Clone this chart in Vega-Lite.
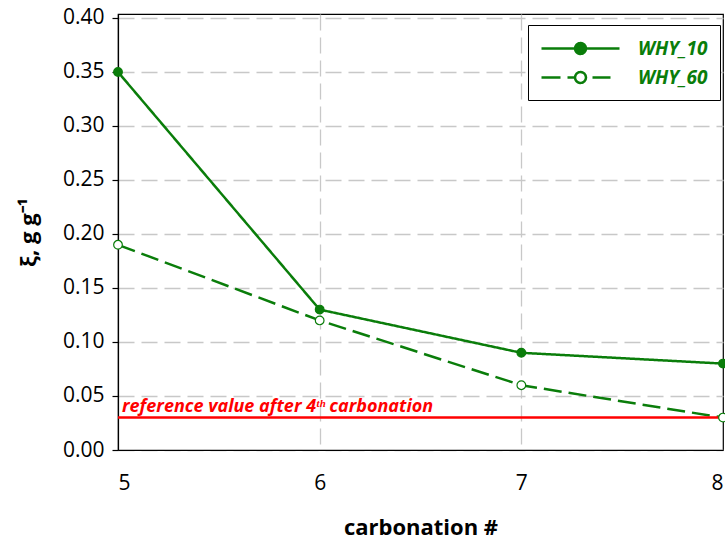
{
  "$schema": "https://vega.github.io/schema/vega-lite/v6.json",
  "width": 605,
  "height": 436,
  "autosize": {"type": "none"},
  "padding": {"left": 118, "top": 14, "right": 2, "bottom": 91},
  "background": "white",
  "config": {
    "view": {"stroke": "black", "strokeWidth": 1.2},
    "font": "Open Sans",
    "axis": {"labelFont": "Open Sans", "titleFont": "Open Sans", "labelColor": "black", "titleColor": "black"}
  },
  "datasets": {
    "series": [
      {"carbonation": 5, "xi": 0.35, "series": "WHY_10"},
      {"carbonation": 6, "xi": 0.13, "series": "WHY_10"},
      {"carbonation": 7, "xi": 0.09, "series": "WHY_10"},
      {"carbonation": 8, "xi": 0.08, "series": "WHY_10"},
      {"carbonation": 5, "xi": 0.19, "series": "WHY_60"},
      {"carbonation": 6, "xi": 0.12, "series": "WHY_60"},
      {"carbonation": 7, "xi": 0.06, "series": "WHY_60"},
      {"carbonation": 8, "xi": 0.03, "series": "WHY_60"}
    ],
    "ref": [{"carbonation": 5, "xi": 0.03, "label": "reference value after 4ᵗʰ carbonation"}]
  },
  "layer": [
    {
      "data": {"name": "series"},
      "mark": {"type": "line", "strokeWidth": 2.5, "clip": false},
      "encoding": {
        "x": {
          "field": "carbonation", "type": "quantitative",
          "scale": {"domain": [5, 8], "nice": false, "zero": false},
          "axis": {
            "values": [5, 6, 7, 8], "format": "d", "title": "carbonation #",
            "labelFontSize": 21, "labelPadding": 22, "tickSize": 0,
            "titleFontSize": 22, "titleFontWeight": "bold", "titlePadding": 24,
            "domainColor": "black", "domainWidth": 1.2,
            "grid": true, "gridColor": "#c8c8c8", "gridDash": [16, 7], "gridWidth": 1.3,
            "gridOpacity": {"condition": {"test": "datum.value == 8 || datum.value == 5", "value": 0}, "value": 1}
          }
        },
        "y": {
          "field": "xi", "type": "quantitative",
          "scale": {"domain": [0, 0.4037], "nice": false},
          "axis": {
            "values": [0, 0.05, 0.1, 0.15, 0.2, 0.25, 0.3, 0.35, 0.4], "format": ".2f",
            "title": "ξ, g g⁻¹", "labelFontSize": 21, "labelPadding": 8,
            "tickSize": 6, "tickColor": "black", "tickWidth": 1.2,
            "titleFontSize": 22, "titleFontWeight": "bold", "titlePadding": 22,
            "domainColor": "black", "domainWidth": 1.2,
            "grid": true, "gridColor": "#c8c8c8", "gridDash": [16, 7], "gridWidth": 1.3
          }
        },
        "color": {
          "field": "series", "type": "nominal",
          "scale": {"domain": ["WHY_10", "WHY_60"], "range": ["#0a7d0a", "#0a7d0a"]},
          "legend": {
            "title": null, "orient": "none", "legendX": 410, "legendY": 11,
            "fillColor": "white", "strokeColor": "black", "padding": 12,
            "symbolSize": 400, "symbolStrokeWidth": 2.5, "symbolStrokeColor": "#0a7d0a",
            "symbolDash": [1, 0],
            "rowPadding": 7, "labelOffset": 75,
            "labelFontSize": 19, "labelFontWeight": "bold", "labelFontStyle": "italic",
            "labelColor": "#0a7d0a", "labelFont": "Open Sans",
            "encode": {
              "symbols": {
                "update": {
                  "shape": {"signal": "datum.value == 'WHY_10' ? 'M-1,0L6.8,0M3.45,0L3.408,0.211L3.289,0.389L3.111,0.508L2.9,0.55L2.689,0.508L2.511,0.389L2.392,0.211L2.35,0L2.392,-0.211L2.511,-0.389L2.689,-0.508L2.9,-0.55L3.111,-0.508L3.289,-0.389L3.408,-0.211Z' : 'M-1,0H0.9M1.6,0H2.35M4.1,0H5.9M3.45,0L3.408,0.211L3.289,0.389L3.111,0.508L2.9,0.55L2.689,0.508L2.511,0.389L2.392,0.211L2.35,0L2.392,-0.211L2.511,-0.389L2.689,-0.508L2.9,-0.55L3.111,-0.508L3.289,-0.389L3.408,-0.211Z'"},
                  "fill": {"signal": "datum.value == 'WHY_10' ? '#0a7d0a' : 'white'"},
                  "stroke": {"value": "#0a7d0a"},
                  "strokeWidth": {"value": 2.5},
                  "opacity": {"value": 1}
                }
              }
            }
          }
        },
        "strokeDash": {
          "condition": {"test": "datum.series == 'WHY_60'", "value": [18, 7]},
          "value": [1, 0]
        }
      }
    },
    {
      "data": {"name": "ref"},
      "mark": {"type": "rule", "color": "#ff0000", "strokeWidth": 2.5},
      "encoding": {"y": {"field": "xi", "type": "quantitative"}}
    },
    {
      "data": {"name": "series"},
      "mark": {"type": "point", "size": 75, "strokeWidth": 1.2, "opacity": 1, "clip": false},
      "encoding": {
        "x": {"field": "carbonation", "type": "quantitative"},
        "y": {"field": "xi", "type": "quantitative"},
        "color": {"field": "series", "type": "nominal"},
        "fill": {
          "field": "series", "type": "nominal",
          "scale": {"domain": ["WHY_10", "WHY_60"], "range": ["#0a7d0a", "white"]},
          "legend": null
        },
        "shape": {"value": "circle"}
      }
    },
    {
      "data": {"name": "ref"},
      "mark": {"type": "text", "align": "left", "baseline": "alphabetic", "dx": 4, "dy": -6, "color": "#ff0000", "fontSize": 18, "fontWeight": "bold", "fontStyle": "italic", "font": "Open Sans"},
      "encoding": {
        "x": {"field": "carbonation", "type": "quantitative"},
        "y": {"field": "xi", "type": "quantitative"},
        "text": {"field": "label"}
      }
    }
  ]
}
